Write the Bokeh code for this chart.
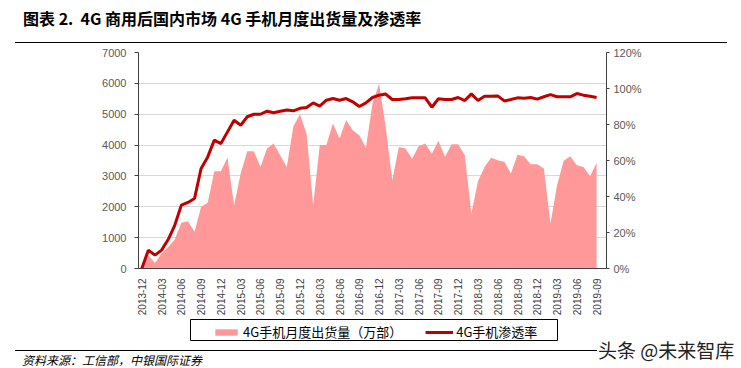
import math
from bokeh.plotting import figure
from bokeh.layouts import column
from bokeh.models import (Range1d, LinearAxis, FixedTicker, PrintfTickFormatter,
                          Legend, LegendItem, ColumnDataSource, Div, BoxAnnotation)
from bokeh.embed import file_html
from bokeh.resources import INLINE

# ---------------- data ----------------
months = [
    "2013-12",
    "2014-01", "2014-02", "2014-03", "2014-04", "2014-05", "2014-06",
    "2014-07", "2014-08", "2014-09", "2014-10", "2014-11", "2014-12",
    "2015-01", "2015-02", "2015-03", "2015-04", "2015-05", "2015-06",
    "2015-07", "2015-08", "2015-09", "2015-10", "2015-11", "2015-12",
    "2016-01", "2016-02", "2016-03", "2016-04", "2016-05", "2016-06",
    "2016-07", "2016-08", "2016-09", "2016-10", "2016-11", "2016-12",
    "2017-01", "2017-02", "2017-03", "2017-04", "2017-05", "2017-06",
    "2017-07", "2017-08", "2017-09", "2017-10", "2017-11", "2017-12",
    "2018-01", "2018-02", "2018-03", "2018-04", "2018-05", "2018-06",
    "2018-07", "2018-08", "2018-09", "2018-10", "2018-11", "2018-12",
    "2019-01", "2019-02", "2019-03", "2019-04", "2019-05", "2019-06",
    "2019-07", "2019-08", "2019-09",
]

# 4G handset monthly shipments (10k units)
shipments = [
    0, 430, 180, 490, 700, 940, 1480, 1530, 1190, 2000,
    2130, 3150, 3150, 3600, 2050, 3080, 3800, 3800, 3290, 3890,
    4050, 3670, 3290, 4610, 5000, 4370, 2050, 4000, 4000, 4700,
    4210, 4810, 4480, 4320, 3910, 5350, 5990, 4590, 2850, 3940,
    3890, 3560, 3960, 4050, 3720, 4140, 3620, 4030, 4030, 3670,
    1780, 2830, 3290, 3590, 3510, 3460, 3080, 3690, 3640, 3380,
    3380, 3240, 1460, 2700, 3490, 3640, 3350, 3290, 2990, 3420,
]

# 4G handset penetration (%)
penetration = [
    0, 10.2, 7.4, 10.2, 16.1, 24.0, 35.2, 36.7, 38.9, 55.6,
    62.0, 71.3, 69.4, 75.9, 82.4, 79.6, 84.3, 85.7, 85.7, 87.4,
    86.5, 87.4, 88.0, 87.6, 89.0, 89.4, 92.0, 90.2, 93.5, 94.4,
    93.5, 94.4, 92.6, 90.0, 92.0, 95.0, 96.3, 96.9, 93.9, 93.9,
    94.3, 94.8, 94.8, 94.8, 89.6, 94.3, 93.9, 93.9, 95.0, 93.3,
    97.0, 93.3, 95.7, 95.7, 95.9, 93.1, 93.9, 94.8, 94.6, 95.0,
    94.1, 95.4, 96.6, 95.4, 95.4, 95.4, 97.2, 96.3, 95.7, 95.0,
]

tick_labels = [
    "2013-12", "2014-03", "2014-06", "2014-09", "2014-12", "2015-03",
    "2015-06", "2015-09", "2015-12", "2016-03", "2016-06", "2016-09",
    "2016-12", "2017-03", "2017-06", "2017-09", "2017-12", "2018-03",
    "2018-06", "2018-09", "2018-12", "2019-03", "2019-06", "2019-09",
]
left_ticks = [0, 1000, 2000, 3000, 4000, 5000, 6000, 7000]
right_ticks = [0, 20, 40, 60, 80, 100, 120]

title_text = "图表 2.&nbsp; 4G 商用后国内市场 4G 手机月度出货量及渗透率"
source_text = "资料来源：工信部，中银国际证券"
watermark_text = "头条 @未来智库"
series_names = ["4G手机月度出货量（万部）", "4G手机渗透率"]

CJK = "Noto Sans CJK SC"
LAT = "Liberation Sans"
W = 741
AREA_COLOR = "#FF9999"
LINE_COLOR = "#C00000"

# ---------------- header ----------------
header_html = (
    '<div style="position:relative;width:741px;height:45px;overflow:hidden;">'
    '<div style="position:absolute;left:23px;top:8px;font-family:\'Noto Sans CJK SC\';'
    'font-weight:bold;font-size:16px;line-height:20px;color:#000;white-space:nowrap;">'
    + title_text + '</div>'
    '<div style="position:absolute;left:15px;top:42px;width:712px;height:0;'
    'border-top:1.5px solid #000;"></div></div>'
)
hdr = Div(text=header_html, width=W, height=45, margin=0)

# ---------------- main chart ----------------
x_pos = [months.index(m) for m in months]
src = ColumnDataSource(dict(x=x_pos, ship=shipments, pen=penetration))

p = figure(width=W, height=273, x_range=Range1d(-0.5, len(months) + 0.5),
           y_range=Range1d(0, 7000), toolbar_location=None, output_backend="svg",
           min_border_left=138, min_border_right=135, min_border_top=7,
           min_border_bottom=50, outline_line_color=None)
p.extra_y_ranges = {"pct": Range1d(0, 120)}

area_r = p.varea(x="x", y1=0, y2="ship", source=src, fill_color=AREA_COLOR)
line_r = p.line(x="x", y="pen", source=src, line_color=LINE_COLOR, line_width=3,
                y_range_name="pct")

tick_pos = [months.index(t) for t in tick_labels]
xa = p.xaxis[0]
xa.ticker = FixedTicker(ticks=tick_pos)
xa.major_label_overrides = {pos: lab for pos, lab in zip(tick_pos, tick_labels)}
xa.major_label_orientation = math.pi / 2
xa.major_tick_line_color = None
xa.minor_tick_line_color = None
xa.major_label_standoff = 4
xa.axis_line_color = "#404040"
xa.major_label_text_font = LAT
xa.major_label_text_font_size = "10px"
xa.major_label_text_color = "#404040"

ya = p.yaxis[0]
ya.ticker = FixedTicker(ticks=left_ticks)
ya.major_tick_out = 4
ya.major_tick_in = 0
ya.minor_tick_line_color = None
ya.major_label_standoff = 8
ya.axis_line_color = "#404040"
ya.major_tick_line_color = "#404040"
ya.major_label_text_font = LAT
ya.major_label_text_font_size = "11px"
ya.major_label_text_color = "#595959"

ra = LinearAxis(y_range_name="pct", ticker=FixedTicker(ticks=right_ticks),
                formatter=PrintfTickFormatter(format="%d%%"))
ra.major_tick_out = 3
ra.major_tick_in = 0
ra.minor_tick_line_color = None
ra.major_label_standoff = 4
ra.axis_line_color = "#404040"
ra.major_tick_line_color = "#404040"
ra.major_label_text_font = LAT
ra.major_label_text_font_size = "11px"
ra.major_label_text_color = "#595959"
p.add_layout(ra, "right")

p.xgrid.visible = False
p.ygrid.ticker = FixedTicker(ticks=left_ticks)
p.ygrid.grid_line_color = "#D9D9D9"
p.ygrid.grid_line_width = 1

# ---------------- legend strip ----------------
# frame of this strip is aligned with the chart frame; units are pixels
lg = figure(width=W, height=27, x_range=Range1d(0, 468), y_range=Range1d(0, 27),
            toolbar_location=None, output_backend="svg",
            min_border_left=138, min_border_right=135, min_border_top=0,
            min_border_bottom=0, x_axis_location=None, y_axis_location=None,
            outline_line_color=None)
lg.grid.visible = False
# legend keys (single point, draws nothing in the strip itself)
key_area = lg.varea(x=[-10], y1=[-10], y2=[-10], fill_color=AREA_COLOR)
key_line = lg.line(x=[-10], y=[-10], line_color=LINE_COLOR, line_width=3)

legend_box = BoxAnnotation(left=52, right=419, bottom=5, top=26,
                           fill_alpha=0, line_color="#000000", line_width=1,
                           line_alpha=1)
lg.add_layout(legend_box)

legend = Legend(items=[LegendItem(label=series_names[0], renderers=[key_area]),
                       LegendItem(label=series_names[1], renderers=[key_line])],
                location=(74, 4), orientation="horizontal")
legend.border_line_color = None
legend.background_fill_alpha = 0
legend.padding = 4
legend.spacing = 23
legend.margin = 0
legend.glyph_width = 28
legend.glyph_height = 8
legend.label_height = 14
legend.label_standoff = 3
legend.label_text_font = CJK
legend.label_text_font_size = "13px"
legend.label_text_color = "#000000"
lg.add_layout(legend)

# ---------------- footer ----------------
footer_html = (
    '<div style="position:relative;width:741px;height:23px;overflow:visible;">'
    '<div style="position:absolute;left:15px;top:5px;width:582px;height:0;'
    'border-top:1.5px solid #000;"></div>'
    '<div style="position:absolute;left:22px;top:9px;font-family:\'Noto Sans CJK SC\';'
    'font-style:italic;font-size:12px;line-height:12px;color:#000;white-space:nowrap;">'
    + source_text + '</div>'
    '<div style="position:absolute;left:598px;top:-5px;font-family:\'Noto Sans CJK SC\';'
    'font-size:19px;line-height:19px;color:#222;white-space:nowrap;">'
    + watermark_text + '</div></div>'
)
ftr = Div(text=footer_html, width=W, height=23, margin=0)

layout = column(hdr, p, lg, ftr, spacing=0)
open("out.html", "w").write(file_html(layout, INLINE))
